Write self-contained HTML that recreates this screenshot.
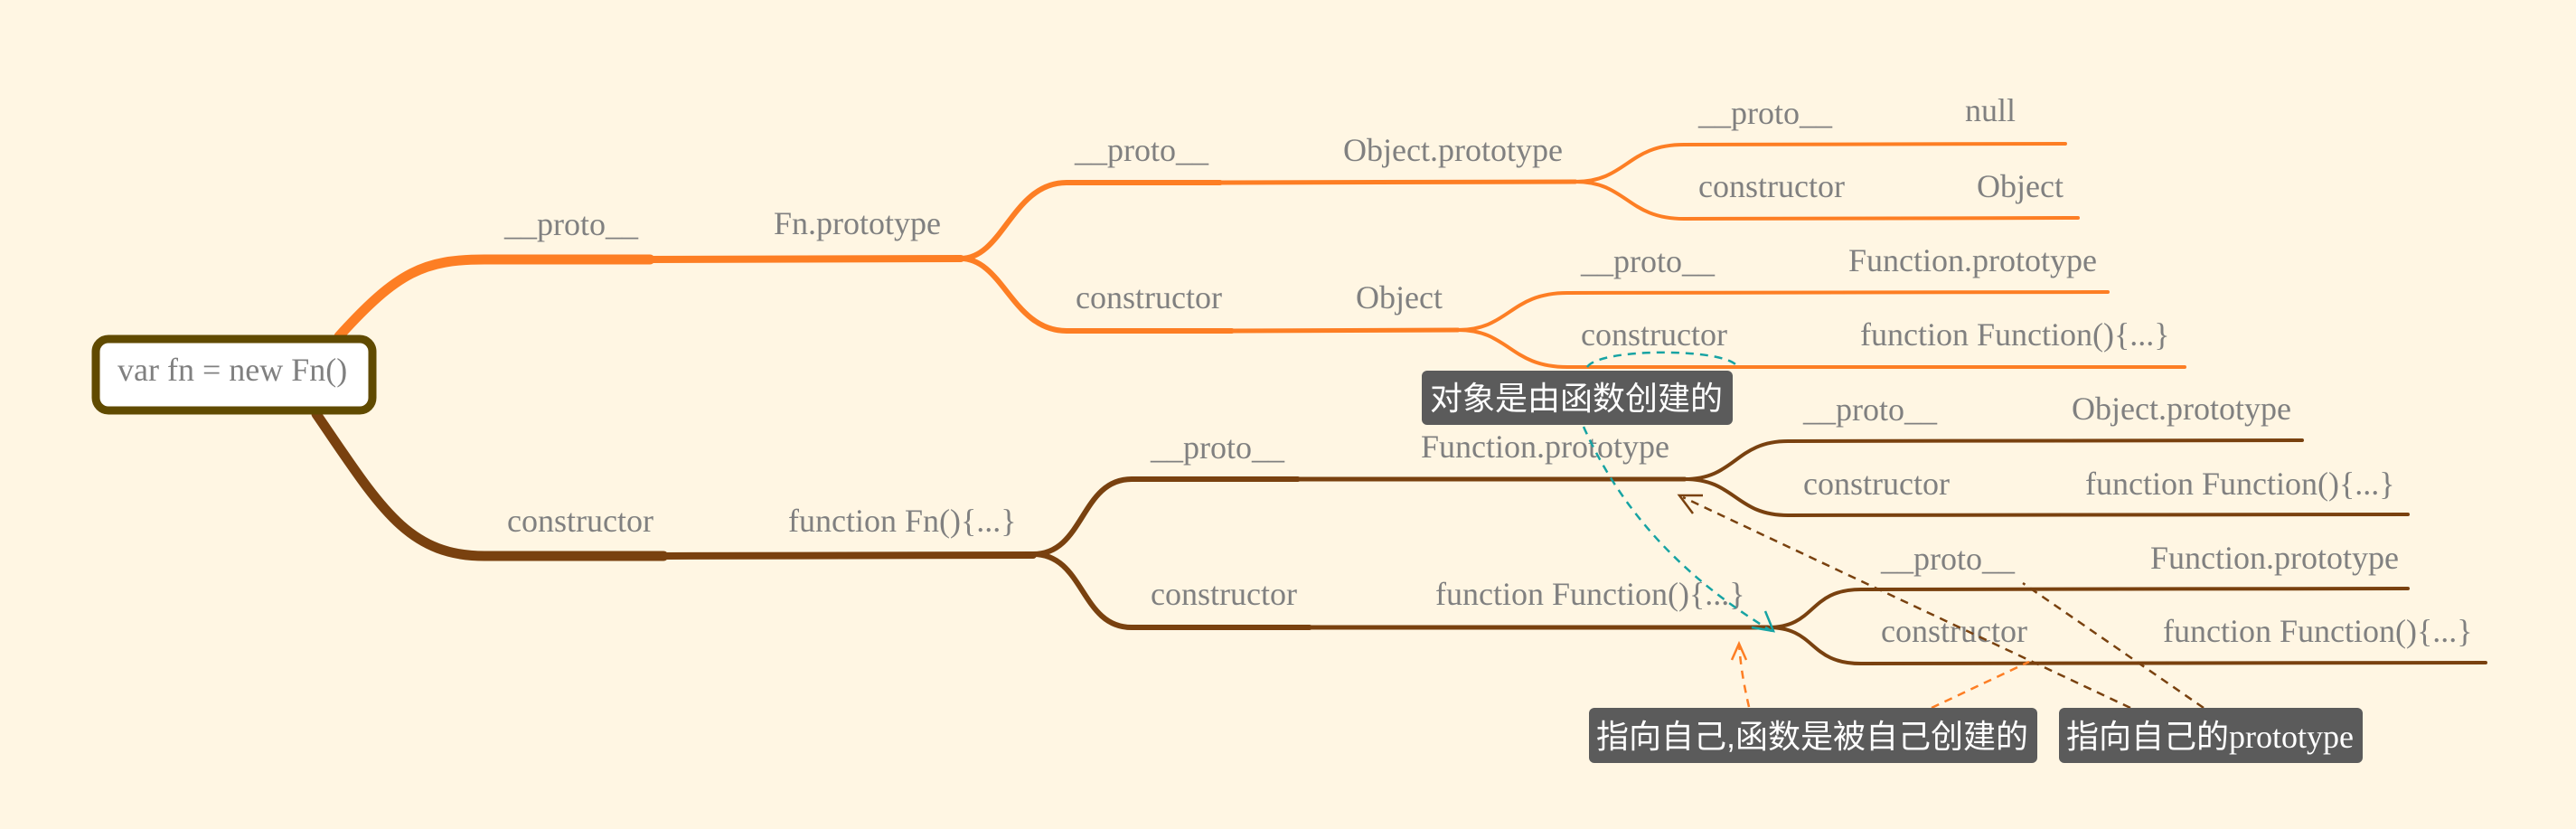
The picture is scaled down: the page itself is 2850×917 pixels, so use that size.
<!DOCTYPE html>
<html><head><meta charset="utf-8"><style>
html,body{margin:0;padding:0;background:#fff6e3;}
svg{display:block;}
.t{font-family:"Liberation Serif",serif;font-size:36px;fill:#808080;}
.c{font-family:"Liberation Sans","Noto Sans CJK SC",sans-serif;font-size:36px;fill:#fff;}
</style></head><body>
<svg width="2850" height="917" viewBox="0 0 2850 917" xmlns="http://www.w3.org/2000/svg">
<rect width="2850" height="917" fill="#fff6e3"/>
<g fill="none" stroke-linecap="round">
<path d="M375 372 C440 300 470 287 536 287 L719 287" stroke="#fd7e24" stroke-width="11"/>
<path d="M719 287 L1063 286" stroke="#fd7e24" stroke-width="8"/>
<path d="M1063 286 C1110 286 1120 202 1180 202 L1350 202" stroke="#fd7e24" stroke-width="6"/>
<path d="M1350 202 L1743 201" stroke="#fd7e24" stroke-width="5"/>
<path d="M1063 286 C1110 286 1120 366 1180 366 L1363 366" stroke="#fd7e24" stroke-width="6"/>
<path d="M1363 366 L1613 365" stroke="#fd7e24" stroke-width="5"/>
<path d="M1743 201 C1800 201 1800 160 1863 160 L2285 159" stroke="#fd7e24" stroke-width="4"/>
<path d="M1743 201 C1800 201 1800 242 1863 242 L2299 241" stroke="#fd7e24" stroke-width="4"/>
<path d="M1613 365 C1670 365 1670 324 1734 324 L2332 323" stroke="#fd7e24" stroke-width="4"/>
<path d="M1613 365 C1670 365 1670 406 1734 406 L2417 406" stroke="#fd7e24" stroke-width="4"/>

<path d="M350 458 C420 560 450 615 536 615 L734 615" stroke="#79410f" stroke-width="11"/>
<path d="M734 615 L1143 614" stroke="#79410f" stroke-width="8"/>
<path d="M1143 613 C1200 613 1195 530 1252 530 L1436 530" stroke="#79410f" stroke-width="6"/>
<path d="M1436 530 L1864 530" stroke="#79410f" stroke-width="5"/>
<path d="M1143 613 C1200 613 1195 694 1252 694 L1449 694" stroke="#79410f" stroke-width="6"/>
<path d="M1449 694 L1956 694" stroke="#79410f" stroke-width="5"/>
<path d="M1864 530 C1920 530 1920 488 1978 488 L2547 487" stroke="#79410f" stroke-width="4"/>
<path d="M1864 530 C1920 530 1920 570 1978 570 L2664 569" stroke="#79410f" stroke-width="4"/>
<path d="M1956 694 C2010 694 2000 652 2059 652 L2664 651" stroke="#79410f" stroke-width="4"/>
<path d="M1956 694 C2010 694 2000 734 2059 734 L2750 733" stroke="#79410f" stroke-width="4"/>
</g>

<rect x="106" y="375" width="306" height="79" rx="14" fill="#fff" stroke="#604a00" stroke-width="9"/>
<text class="t" x="130" y="421">var fn = new Fn()</text>

<g>
<text class="t" x="558" y="260">__proto__</text>
<text class="t" x="856" y="259">Fn.prototype</text>
<text class="t" x="561" y="588">constructor</text>
<text class="t" x="872" y="588">function Fn(){...}</text>

<text class="t" x="1189" y="178">__proto__</text>
<text class="t" x="1486" y="178">Object.prototype</text>
<text class="t" x="1190" y="341">constructor</text>
<text class="t" x="1500" y="341">Object</text>

<text class="t" x="1879" y="137">__proto__</text>
<text class="t" x="2174" y="134">null</text>
<text class="t" x="1879" y="218">constructor</text>
<text class="t" x="2187" y="218">Object</text>

<text class="t" x="1749" y="301">__proto__</text>
<text class="t" x="2045" y="300">Function.prototype</text>
<text class="t" x="1749" y="382">constructor</text>
<text class="t" x="2058" y="382">function Function(){...}</text>

<text class="t" x="1273" y="507">__proto__</text>
<text class="t" x="1572" y="506">Function.prototype</text>
<text class="t" x="1273" y="669">constructor</text>
<text class="t" x="1588" y="669">function Function(){...}</text>

<text class="t" x="1995" y="465">__proto__</text>
<text class="t" x="2292" y="464">Object.prototype</text>
<text class="t" x="1995" y="547">constructor</text>
<text class="t" x="2307" y="547">function Function(){...}</text>

<text class="t" x="2081" y="630">__proto__</text>
<text class="t" x="2379" y="629">Function.prototype</text>
<text class="t" x="2081" y="710">constructor</text>
<text class="t" x="2393" y="710">function Function(){...}</text>
</g>

<g fill="none" stroke-width="2.5" stroke-dasharray="9 7">
<path d="M1756 406 C1770 385 1900 385 1920 403" stroke="#17a3a3"/>
<path d="M1752 472 C1800 580 1880 650 1960 698" stroke="#17a3a3"/>
<path d="M1935 782 C1930 760 1926 740 1924 712" stroke="#fd7e24"/>
<path d="M2137 783 L2245 732" stroke="#fd7e24"/>
<path d="M2357 783 L1862 550" stroke="#79410f"/>
<path d="M2438 783 L2238 645" stroke="#79410f"/>
</g>
<g fill="none" stroke-width="2.5">
<path d="M1938 694 L1962 698 L1953 676" stroke="#17a3a3"/>
<path d="M1916 730 L1924 712 L1932 730" stroke="#fd7e24"/>
<path d="M1884 548 L1858 548 L1873 568" stroke="#79410f"/>
</g>

<rect x="1573" y="410" width="344" height="60" rx="6" fill="#5b5b5b"/>
<text class="c" x="1582" y="453">对象是由函数创建的</text>
<rect x="1758" y="783" width="496" height="61" rx="6" fill="#5b5b5b"/>
<text class="c" x="1766" y="827">指向自己,函数是被自己创建的</text>
<rect x="2278" y="783" width="336" height="61" rx="6" fill="#5b5b5b"/>
<text class="c" x="2286" y="827">指向自己的<tspan font-family="Liberation Serif, serif">prototype</tspan></text>
</svg>
</body></html>
